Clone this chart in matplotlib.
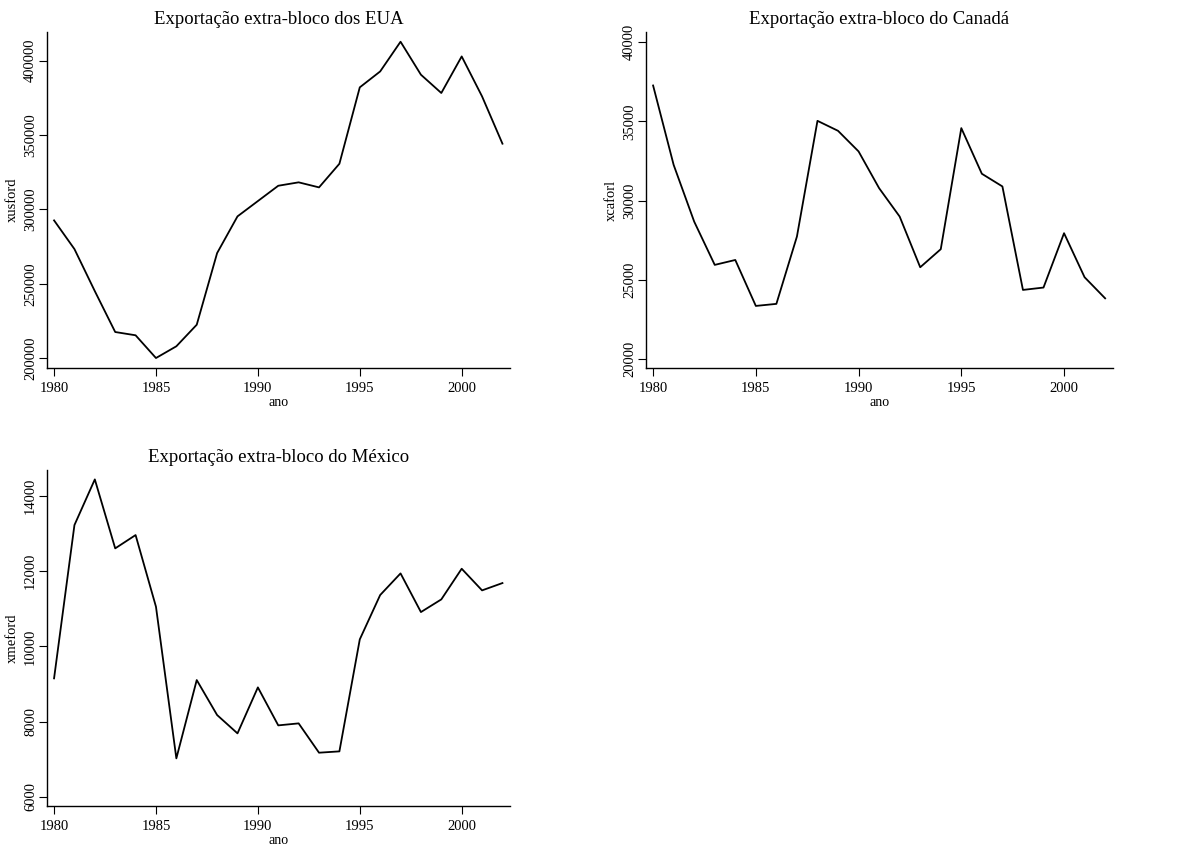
import matplotlib
matplotlib.use("Agg")
import matplotlib.pyplot as plt

years = list(range(1980, 2003))
xusford = [292600, 273300, 245000, 217500, 215300, 200000, 207900, 222400,
           270600, 295300, 305600, 315900, 318200, 314800, 330700, 382100,
           392800, 412800, 390600, 378300, 402900, 376000, 344200]
xcaforl = [37260, 32250, 28670, 25940, 26250, 23350, 23480, 27730, 35030,
           34400, 33100, 30780, 28990, 25790, 26930, 34570, 31690, 30890,
           24360, 24510, 27940, 25160, 23830]
xmeford = [9149, 13228, 14443, 12608, 12962, 11055, 7020, 9104, 8173, 7685,
           8909, 7898, 7951, 7171, 7206, 10186, 11366, 11942, 10913, 11250,
           12066, 11490, 11685]

xticks = [1980, 1985, 1990, 1995, 2000]
yticks_us = [200000, 250000, 300000, 350000, 400000]
yticks_ca = [20000, 25000, 30000, 35000, 40000]
yticks_me = [6000, 8000, 10000, 12000, 14000]

plt.rcParams['font.family'] = ['Liberation Serif', 'DejaVu Serif']

fig = plt.figure(figsize=(11.77, 8.48), dpi=100)

panels = [
    ([0.0397, 0.566, 0.3936, 0.3962], xusford, yticks_us, (193270, 419300),
     "Exportação extra-bloco dos EUA", "xusford"),
    ([0.5486, 0.566, 0.3968, 0.3962], xcaforl, yticks_ca, (19431, 40632),
     "Exportação extra-bloco do Canadá", "xcaforl"),
    ([0.0397, 0.0495, 0.3936, 0.3962], xmeford, yticks_me, (5752, 14692),
     "Exportação extra-bloco do México", "xmeford"),
]

for rect, vals, yt, ylim, title, ylabel in panels:
    ax = fig.add_axes(rect)
    ax.plot(years, vals, color='black', lw=1.3)
    ax.set_xlim(1979.64, 2002.37)
    ax.set_ylim(*ylim)
    ax.set_xticks(xticks)
    ax.set_yticks(yt)
    ax.set_yticklabels([str(v) for v in yt], rotation=90, va='center')
    for s in ['top', 'right']:
        ax.spines[s].set_visible(False)
    for s in ['left', 'bottom']:
        ax.spines[s].set_linewidth(1.0)
    ax.tick_params(axis='x', direction='out', length=6, width=0.8,
                   labelsize=10.5, pad=4)
    ax.tick_params(axis='y', direction='out', length=6, width=0.8,
                   labelsize=10.5, pad=1)
    ax.set_title(title, fontsize=13.5, pad=6)
    ax.set_xlabel("ano", fontsize=10, labelpad=1)
    ax.set_ylabel(ylabel, fontsize=10.5, labelpad=4)

fig.savefig("out.png", dpi=100)
